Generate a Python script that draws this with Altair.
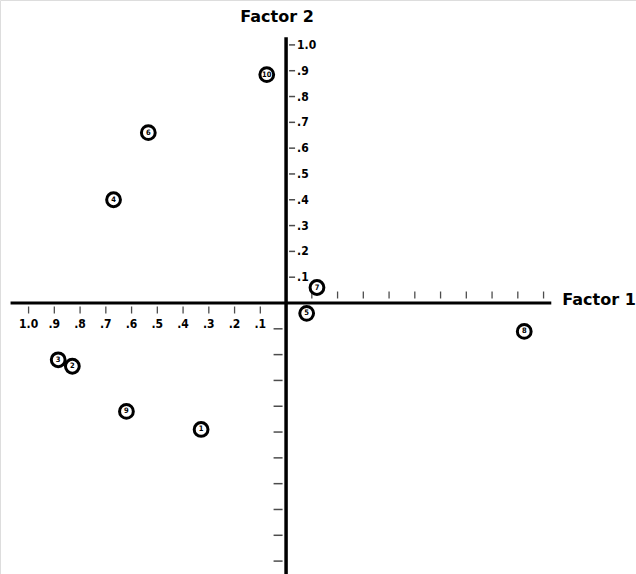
import altair as alt
import pandas as pd

# ---- data ----
point_ids = ["1", "2", "3", "4", "5", "6", "7", "8", "9", "10"]
factor1 = [-0.33, -0.83, -0.885, -0.67, 0.08, -0.535, 0.12, 0.925, -0.62, -0.075]
factor2 = [-0.49, -0.245, -0.22, 0.40, -0.04, 0.66, 0.06, -0.11, -0.42, 0.885]

tick_steps = [0.1, 0.2, 0.3, 0.4, 0.5, 0.6, 0.7, 0.8, 0.9, 1.0]
tick_labels = [".1", ".2", ".3", ".4", ".5", ".6", ".7", ".8", ".9", "1.0"]

x_axis_extent = [-1.07, 1.03]
y_axis_extent = [-1.055, 1.03]

x_domain = [-1.111, 1.359]
y_domain = [-1.050, 1.174]

FONT_T = "DejaVu Sans Condensed"
FONT_H = "DejaVu Sans"

pts = pd.DataFrame({"id": point_ids, "f1": factor1, "f2": factor2})
neg_ticks = pd.DataFrame({"v": [-t for t in tick_steps], "lab": tick_labels, "z": [0.0] * 10})
pos_ticks = pd.DataFrame({"v": tick_steps, "lab": tick_labels, "z": [0.0] * 10})

xs = alt.Scale(domain=x_domain, nice=False, zero=False)
ys = alt.Scale(domain=y_domain, nice=False, zero=False)


def X(f):
    return alt.X(f, type="quantitative", scale=xs, axis=None)


def Y(f):
    return alt.Y(f, type="quantitative", scale=ys, axis=None)


# axis lines
xline = alt.Chart(pd.DataFrame({"a": [x_axis_extent[0]], "b": [x_axis_extent[1]], "z": [0.0]})).mark_rule(
    color="black", strokeWidth=3
).encode(x=X("a"), x2="b", y=Y("z"))

yline = alt.Chart(pd.DataFrame({"a": [y_axis_extent[0]], "b": [y_axis_extent[1]], "z": [0.0]})).mark_rule(
    color="black", strokeWidth=3.5
).encode(y=Y("a"), y2="b", x=X("z"))

# x ticks: negative side below, positive side above
xneg_ticks = alt.Chart(neg_ticks).mark_tick(
    orient="vertical", size=7, thickness=1.3, color="black", yOffset=7
).encode(x=X("v"), y=Y("z"))
xneg_labels = alt.Chart(neg_ticks).mark_text(
    font=FONT_T, fontSize=12, fontWeight="bold", yOffset=21, baseline="middle", align="center", color="black"
).encode(x=X("v"), y=Y("z"), text="lab")
xpos_ticks = alt.Chart(pos_ticks).mark_tick(
    orient="vertical", size=7, thickness=1.3, color="black", yOffset=-8
).encode(x=X("v"), y=Y("z"))

# y ticks: positive side right with labels, negative side left
ypos_ticks = alt.Chart(pos_ticks).mark_tick(
    orient="horizontal", size=6, thickness=1.5, color="black", xOffset=6
).encode(y=Y("v"), x=X("z"))
ypos_labels = alt.Chart(pos_ticks).mark_text(
    font=FONT_T, fontSize=12, fontWeight="bold", xOffset=11, baseline="middle", align="left", color="black"
).encode(y=Y("v"), x=X("z"), text="lab")
yneg_ticks = alt.Chart(neg_ticks).mark_tick(
    orient="horizontal", size=9, thickness=1.5, color="black", xOffset=-8
).encode(y=Y("v"), x=X("z"))

# titles
title1 = alt.Chart(pd.DataFrame({"x": [x_axis_extent[1]], "y": [0.0], "t": ["Factor 1"]})).mark_text(
    font=FONT_H, fontSize=16, fontWeight="bold", align="left", baseline="alphabetic", dx=11, dy=2, color="black"
).encode(x=X("x"), y=Y("y"), text="t")
title2 = alt.Chart(pd.DataFrame({"x": [0.0], "y": [y_axis_extent[1]], "t": ["Factor 2"]})).mark_text(
    font=FONT_H, fontSize=16, fontWeight="bold", align="center", baseline="alphabetic", dx=-9, dy=-15, color="black"
).encode(x=X("x"), y=Y("y"), text="t")

# points
circles = alt.Chart(pts).mark_point(
    shape="circle", filled=False, fill="white", fillOpacity=1, stroke="black", strokeWidth=3, size=190, opacity=1
).encode(x=X("f1"), y=Y("f2"))
numbers = alt.Chart(pts).mark_text(
    font=FONT_T, fontSize=7.5, fontWeight="bold", baseline="middle", align="center", color="black"
).encode(x=X("f1"), y=Y("f2"), text="id")

chart = alt.layer(
    xline, yline, xneg_ticks, xneg_labels, xpos_ticks, ypos_ticks, ypos_labels, yneg_ticks,
    title1, title2, circles, numbers
).properties(
    width=636, height=574,
    autosize=alt.AutoSizeParams(type="none"),
    padding={"left": 0, "right": 0, "top": 0, "bottom": 0},
).configure_view(stroke=None).configure(background="white")

chart.save("out.html", embed_options={"renderer": "svg", "actions": False})
